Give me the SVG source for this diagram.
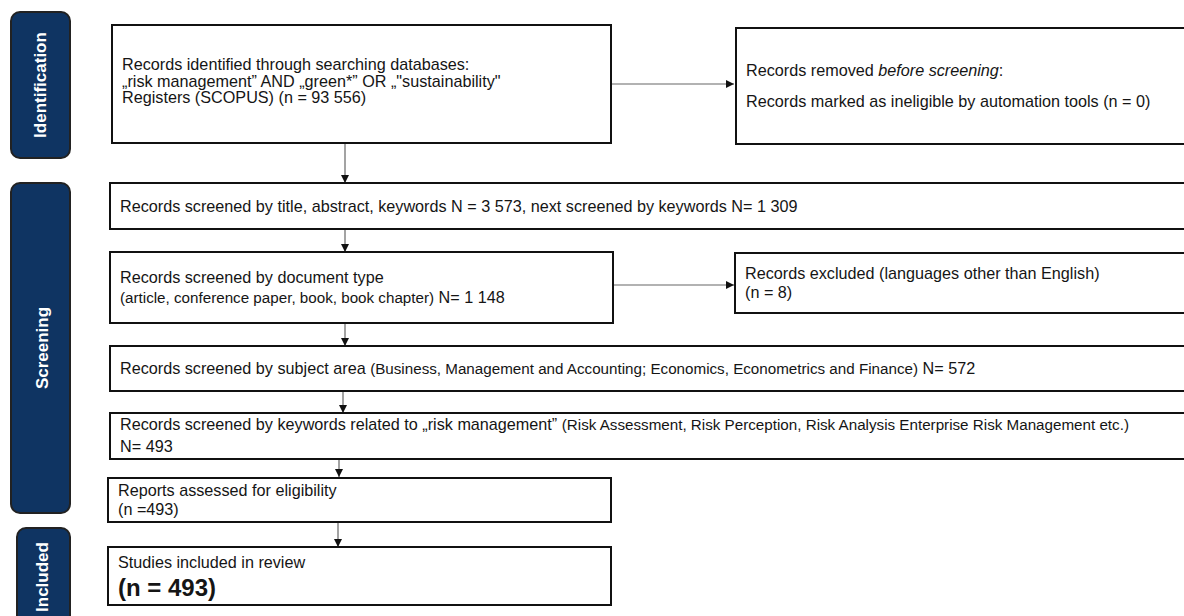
<svg xmlns="http://www.w3.org/2000/svg" width="1184" height="616" viewBox="0 0 1184 616">
<defs>
<style>
.bar{fill:#0f3462;stroke:#222;stroke-width:2}
.bt{font-family:"Liberation Sans",Arial,sans-serif;font-weight:bold;font-size:17px;fill:#fff;text-anchor:middle}
.box{fill:#fff;stroke:#111;stroke-width:2}
.t{font-family:"Liberation Sans",Arial,sans-serif;font-size:16.2px;fill:#151515}
.s{font-size:15.2px}
.big{font-size:24px;font-weight:bold}
.c{stroke:#666;stroke-width:1.2;fill:none;marker-end:url(#ah)}
</style>
<marker id="ah" viewBox="0 0 10 10" refX="10" refY="5" markerWidth="8" markerHeight="8" markerUnits="userSpaceOnUse" orient="auto">
<path d="M0,0 L10,5 L0,10 z" fill="#111"/>
</marker>
</defs>
<rect width="1184" height="616" fill="#fff"/>
<g id="bar-identification"><rect class="bar" x="11" y="12" width="59" height="146" rx="9"/><text class="bt" transform="translate(46,85) rotate(-90)">Identification</text></g>
<g id="bar-screening"><rect class="bar" x="11" y="183" width="59" height="330" rx="9"/><text class="bt" transform="translate(48,348) rotate(-90)">Screening</text></g>
<g id="bar-included"><rect class="bar" x="17" y="528" width="53" height="100" rx="9"/><text class="bt" transform="translate(48,577) rotate(-90)">Included</text></g>
<g id="connectors">
<line class="c" x1="611" y1="84" x2="734" y2="84"/>
<line class="c" x1="345" y1="144" x2="345" y2="183"/>
<line class="c" x1="345" y1="229" x2="345" y2="252"/>
<line class="c" x1="613" y1="285" x2="734" y2="285"/>
<line class="c" x1="345" y1="323" x2="345" y2="346"/>
<line class="c" x1="343" y1="391" x2="343" y2="413"/>
<line class="c" x1="339" y1="459" x2="339" y2="477"/>
<line class="c" x1="338" y1="522" x2="338" y2="547"/>
</g>
<g id="n1"><rect class="box" x="112" y="25" width="499" height="118"/>
<text class="t" x="122" y="70">Records identified through searching databases:</text>
<text class="t" x="122" y="87">„risk management” AND „green*” OR „"sustainability"</text>
<text class="t" x="122" y="103">Registers (SCOPUS) (n = 93 556)</text></g>
<g id="n2"><rect class="box" x="736" y="28" width="460" height="116"/>
<text class="t" x="746" y="76">Records removed <tspan font-style="italic">before screening</tspan>:</text>
<text class="t" x="746" y="107">Records marked as ineligible by automation tools (n = 0)</text></g>
<g id="n3"><rect class="box" x="110" y="183" width="1086" height="46"/>
<text class="t" x="120" y="212">Records screened by title, abstract, keywords N = 3 573, next screened by keywords N= 1 309</text></g>
<g id="n4"><rect class="box" x="110" y="252" width="503" height="71"/>
<text class="t" x="120" y="283">Records screened by document type</text>
<text class="t" x="120" y="303"><tspan class="s">(article, conference paper, book, book chapter)</tspan>  N= 1 148</text></g>
<g id="n5"><rect class="box" x="735" y="253" width="460" height="60"/>
<text class="t" x="745" y="279">Records excluded (languages other than English)</text>
<text class="t" x="745" y="298">(n = 8)</text></g>
<g id="n6"><rect class="box" x="110" y="346" width="1086" height="45"/>
<text class="t" x="120" y="374">Records screened by subject area <tspan class="s">(Business, Management and Accounting; Economics, Econometrics and Finance)</tspan> N= 572</text></g>
<g id="n7"><rect class="box" x="110" y="413" width="1086" height="46"/>
<text class="t" x="120" y="430">Records screened by keywords related to „risk management” <tspan class="s">(Risk Assessment, Risk Perception, Risk Analysis Enterprise Risk Management etc.)</tspan></text>
<text class="t" x="120" y="452">N= 493</text></g>
<g id="n8"><rect class="box" x="108" y="478" width="503" height="44"/>
<text class="t" x="118" y="496">Reports assessed for eligibility</text>
<text class="t" x="118" y="515">(n =493)</text></g>
<g id="n9"><rect class="box" x="108" y="547" width="503" height="58"/>
<text class="t" x="118" y="568">Studies included in review</text>
<text class="t big" x="118" y="596">(n = 493)</text></g>
</svg>
